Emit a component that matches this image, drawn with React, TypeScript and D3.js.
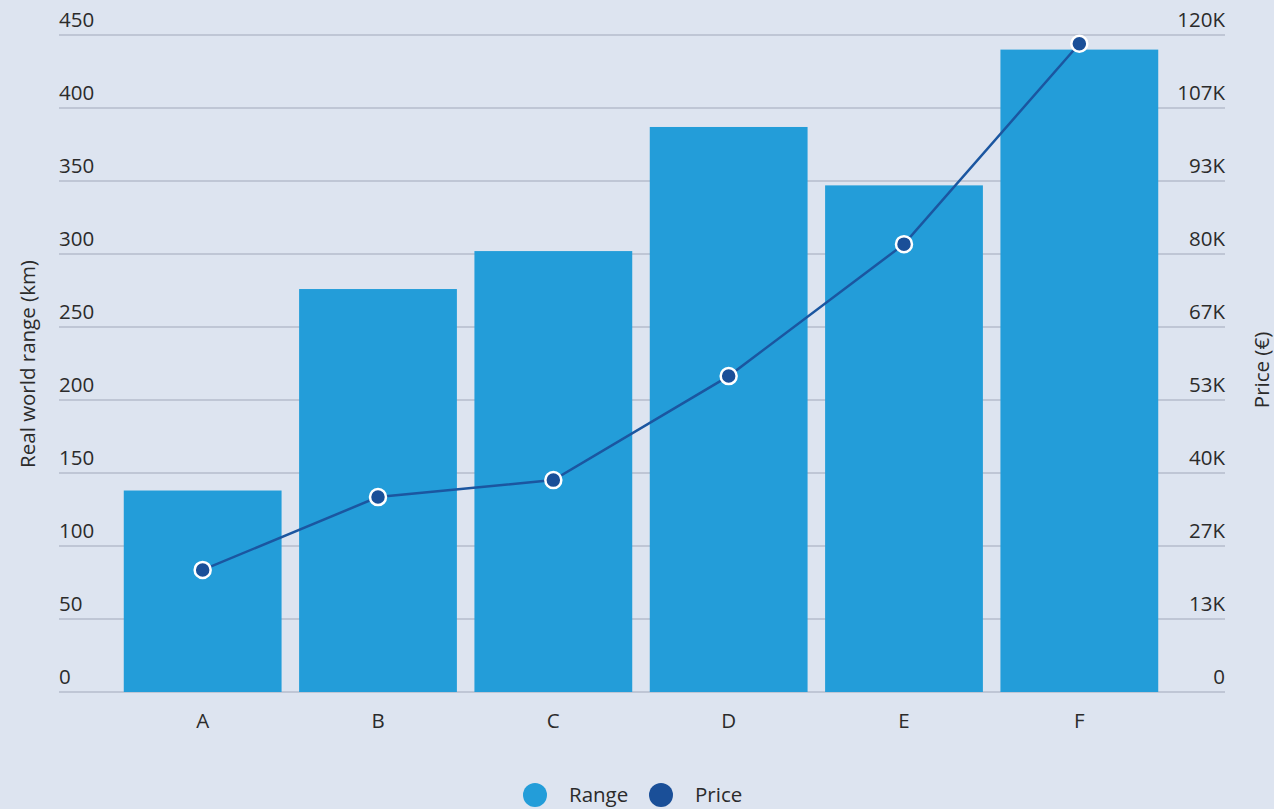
import React from "react";
import * as d3 from "d3";

const categories = ["A", "B", "C", "D", "E", "F"];
const rangeKm = [138, 276, 302, 387, 347, 440];
const priceEur = [22300, 35600, 38700, 57700, 81800, 118400];
const leftTicks = [0, 50, 100, 150, 200, 250, 300, 350, 400, 450];
const rightTicks = [0, 13333, 26667, 40000, 53333, 66667, 80000, 93333, 106667, 120000];
const rightTickLabels = ["0", "13K", "27K", "40K", "53K", "67K", "80K", "93K", "107K", "120K"];
const legendItems = ["Range", "Price"];

const W = 1274;
const H = 809;
const FONT = "'Open Sans', 'Noto Sans', sans-serif";
const FS = 20.5;
const BG = "#dde4f0";
const BAR = "#239dd9";
const LINE = "#1b56a0";
const DOT = "#1a4f98";
const GRID = "#b4bdcc";
const TEXT = "#2b2b2b";

export default function App() {
  const x = d3.scaleBand<string>().domain(categories).range([115, 1167]).paddingInner(0.1).paddingOuter(0.05);
  const yL = d3.scaleLinear().domain([0, 450]).range([692, 35]);
  const yR = d3.scaleLinear().domain([0, 120000]).range([692, 35]);
  const cx = (c: string) => (x(c) ?? 0) + x.bandwidth() / 2;
  const line = d3
    .line<number>()
    .x((_, i) => cx(categories[i]))
    .y((d) => yR(d))
    .curve(d3.curveLinear);

  const legendColors = [BAR, DOT];
  const legendX = [535, 661];

  return (
    <svg width={W} height={H} style={{ position: "absolute", left: 0, top: 0, fontFamily: FONT }}>
      <rect width={W} height={H} fill={BG} />
      {leftTicks.map((t, i) => (
        <g key={"g" + i}>
          <line x1={59} x2={1225} y1={yL(t)} y2={yL(t)} stroke={GRID} strokeWidth={1.5} />
          <text x={59} y={yL(t) - 8} fontSize={FS} fill={TEXT}>
            {t}
          </text>
          <text x={1225} y={yR(rightTicks[i]) - 8} fontSize={FS} fill={TEXT} textAnchor="end">
            {rightTickLabels[i]}
          </text>
        </g>
      ))}
      {categories.map((c, i) => (
        <rect key={c} x={x(c)} y={yL(rangeKm[i])} width={x.bandwidth()} height={yL(0) - yL(rangeKm[i])} fill={BAR} />
      ))}
      {categories.map((c) => (
        <text key={"x" + c} x={cx(c)} y={728} fontSize={FS} fill={TEXT} textAnchor="middle">
          {c}
        </text>
      ))}
      <path d={line(priceEur) ?? ""} fill="none" stroke={LINE} strokeWidth={2.5} />
      {priceEur.map((p, i) => (
        <circle key={"p" + i} cx={cx(categories[i])} cy={yR(p)} r={8} fill={DOT} stroke="#ffffff" strokeWidth={2.5} />
      ))}
      <text transform={`translate(35,364) rotate(-90)`} fontSize={FS} fill={TEXT} textAnchor="middle">
        Real world range (km)
      </text>
      <text transform={`translate(1269,370) rotate(-90)`} fontSize={FS} fill={TEXT} textAnchor="middle">
        Price (€)
      </text>
      {legendItems.map((l, i) => (
        <g key={l}>
          <circle cx={legendX[i]} cy={795} r={12} fill={legendColors[i]} />
          <text x={legendX[i] + 34} y={802} fontSize={FS} fill={TEXT}>
            {l}
          </text>
        </g>
      ))}
    </svg>
  );
}
